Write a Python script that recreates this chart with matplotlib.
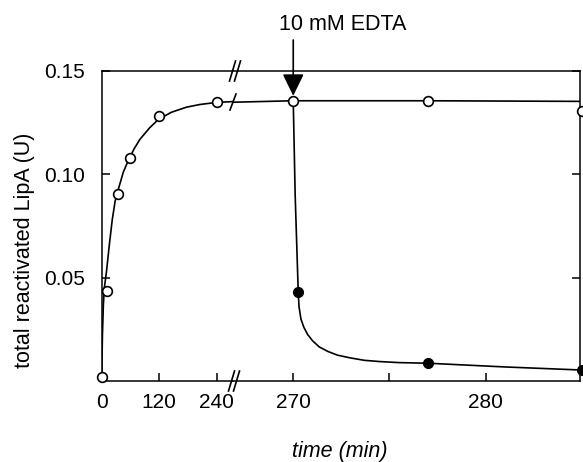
import matplotlib
matplotlib.use("Agg")
from matplotlib import pyplot as plt
import numpy as np

plt.rcParams['font.family'] = ['Liberation Sans', 'DejaVu Sans']

# measured points (open = control, filled = after EDTA)
ctrl_t = [0, 12, 35, 60, 120, 240, 270, 277, 285]
ctrl_y = [0.002, 0.0435, 0.0903, 0.108, 0.1282, 0.1348, 0.1356, 0.1356, 0.1308]
edta_t = [270.26, 277, 285]
edta_y = [0.0429, 0.0086, 0.0053]

# drawn curves
rise_t = [0, 1.5, 3.5, 5.5, 10, 16, 22, 28, 35, 45, 56, 68, 80, 100, 118, 145, 177, 205, 240, 274]
rise_y = [0.002, 0.022, 0.037, 0.045, 0.053, 0.066, 0.078, 0.087, 0.093, 0.101, 0.107, 0.1125,
          0.117, 0.1225, 0.1265, 0.1300, 0.1325, 0.1338, 0.1348, 0.1352]
plat_t = [266.9, 270, 277, 285]
plat_y = [0.1349, 0.1356, 0.1356, 0.1353]
decay_t = [270, 270.1, 270.26, 270.30, 270.40, 270.55, 270.75, 271.0, 271.35, 271.8,
           272.3, 272.95, 273.7, 274.5, 275.5, 277, 281, 285]
decay_y = [0.1356, 0.09, 0.0429, 0.036, 0.030, 0.0260, 0.0225, 0.0195, 0.0165, 0.0143,
           0.0125, 0.0112, 0.0100, 0.0094, 0.0089, 0.0086, 0.0068, 0.0053]

W, H = 583, 462
fig = plt.figure(figsize=(W / 100, H / 100), dpi=100)
x0, xb, x1 = 101.7, 233, 580
yb, yt = 381, 71
ax1 = fig.add_axes([x0 / W, 1 - yb / H, (xb - x0) / W, (yb - yt) / H])
ax2 = fig.add_axes([xb / W, 1 - yb / H, (x1 - xb) / W, (yb - yt) / H])

lw = 1.2
ms = 7
ct = np.array(ctrl_t)
cy = np.array(ctrl_y)
left = ct < 260

ax1.plot(rise_t, rise_y, color='black', lw=lw, zorder=2)
ax1.plot(ct[left], cy[left], 'o', mfc='white', mec='black', mew=1.2, ms=ms, clip_on=False, zorder=3)

ax2.plot(plat_t, plat_y, color='black', lw=lw, zorder=2)
ax2.plot(decay_t, decay_y, color='black', lw=lw, zorder=2)
ax2.plot(ct[~left], cy[~left], 'o', mfc='white', mec='black', mew=1.2, ms=ms, clip_on=False, zorder=3)
ax2.plot(edta_t, edta_y, 'o', color='black', ms=ms, clip_on=False, zorder=3)

for ax in (ax1, ax2):
    ax.set_ylim(0, 0.15)
    for s in ax.spines.values():
        s.set_linewidth(1.1)
    ax.tick_params(direction='in', length=6, width=1.1, labelsize=15, pad=9)

ax1.set_xlim(0, 274)
ax2.set_xlim(266.87, 284.9)
ax1.spines['right'].set_visible(False)
ax2.spines['left'].set_visible(False)

ax1.set_xticks([0, 120, 240])
ax1.set_yticks([0.05, 0.10, 0.15])
ax1.set_yticklabels(['0.05', '0.10', '0.15'])
ax1.tick_params(axis='y', pad=12)
ax2.set_xticks([270, 275, 280])
ax2.set_xticklabels(['270', '', '280'])
ax2.yaxis.tick_right()
ax2.set_yticks([0.05, 0.10, 0.15])
ax2.tick_params(axis='y', labelright=False)

# break marks
def slash(xc, yc, dx, h):
    fig.add_artist(plt.Line2D([(xc - 3 + dx) / W, (xc + 3 + dx) / W],
                              [1 - (yc + h) / H, 1 - (yc - h) / H],
                              color='black', lw=1.2))

for dx in (-2.5, 2.5):
    slash(235, yt, dx, 10)
    slash(234, yb, dx, 10)
slash(233, 102, 0, 8)

# EDTA arrow
ax2.annotate('', xy=(270, 0.1380), xytext=(270, (yb - 40) / (yb - yt) * 0.15),
             arrowprops=dict(arrowstyle='-|>,head_length=0.45,head_width=0.22',
                             color='black', lw=1.2, mutation_scale=30,
                             shrinkA=0, shrinkB=0),
             annotation_clip=False)
fig.text(343 / W, 1 - 24.5 / H, '10 mM EDTA', ha='center', va='center', fontsize=15.5)

fig.text(25 / W, 1 - 250 / H, 'total reactivated LipA (U)', rotation=90,
         ha='center', va='center', fontsize=15.5)
fig.text(340 / W, 1 - 451 / H, 'time (min)', ha='center', va='center',
         fontsize=15.5, style='italic')

fig.savefig('out.png', dpi=100)
